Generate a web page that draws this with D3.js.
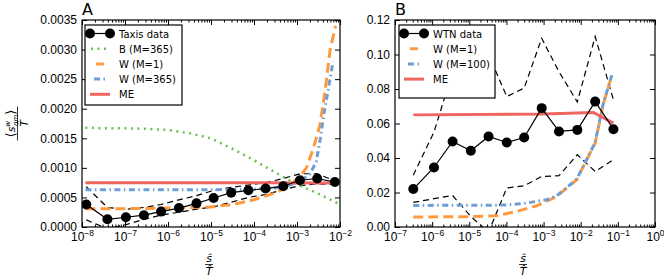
<!DOCTYPE html>
<html>
<head>
<meta charset="utf-8">
<script src="https://cdn.jsdelivr.net/npm/d3@7"></script>
<style>
  body { margin: 0; background: #fff; }
  svg { font-family: "DejaVu Sans", sans-serif; }
</style>
</head>
<body>
<svg id="chart" width="664" height="277"></svg>
<script>
// ---- panel A: taxis data ----
var taxisX     = [1.26e-8, 3.9e-8, 1.05e-7, 2.75e-7, 6.9e-7, 1.8e-6, 4.6e-6, 1.15e-5, 2.95e-5, 7.4e-5, 1.86e-4, 4.8e-4, 1.17e-3, 2.95e-3, 7.6e-3];
var taxisMean  = [0.00038, 0.00013, 0.000165, 0.0002, 0.00026, 0.00032, 0.0004, 0.00049, 0.00058, 0.00062, 0.00065, 0.00069, 0.00079, 0.00082, 0.00076];
var taxisUpper = [0.00068, 0.00033, 0.0003, 0.00033, 0.00038, 0.00046, 0.00053, 0.00062, 0.00067, 0.00071, 0.00075, 0.00082, 0.0009, 0.0009, 0.00078];
var taxisLower = [0.00012, -0.00003, 0.00004, 0.00013, 0.0002, 0.00025, 0.0003, 0.00034, 0.00042, 0.0005, 0.00055, 0.00063, 0.0007, 0.00073, 0.00072];

var bM365X = [1.2e-8, 3e-8, 1e-7, 3e-7, 1e-6, 3e-6, 1e-5, 3e-5, 1e-4, 3e-4, 1e-3, 3e-3, 8.9e-3];
var bM365Y = [0.00168, 0.00167, 0.00167, 0.00166, 0.00164, 0.00159, 0.0015, 0.00133, 0.00113, 0.00093, 0.00072, 0.00057, 0.0004];

var wM1X = [1.2e-8, 1e-7, 1e-6, 3.2e-6, 1e-5, 3.2e-5, 1e-4, 3.2e-4, 6e-4, 1.17e-3, 1.66e-3, 2.4e-3, 3.4e-3, 4.5e-3, 5.9e-3, 7.9e-3];
var wM1Y = [0.00031, 0.00031, 0.00032, 0.00033, 0.00034, 0.00038, 0.00046, 0.00058, 0.00068, 0.00085, 0.001, 0.00133, 0.00172, 0.0023, 0.003, 0.0034];

var wM365X = [1.2e-8, 1e-5, 1e-4, 3.2e-4, 6.3e-4, 1.17e-3, 2e-3, 2.8e-3, 3.5e-3, 4.2e-3, 5.4e-3, 6.9e-3];
var wM365Y = [0.00063, 0.00063, 0.00064, 0.00066, 0.0007, 0.00077, 0.0009, 0.0011, 0.0015, 0.0019, 0.00235, 0.0028];

var meAX = [1.2e-8, 1e-6, 1e-4, 8.9e-3];
var meAY = [0.00075, 0.00075, 0.000748, 0.000745];

// ---- panel B: WTN data ----
var wtnX     = [3.1e-7, 1.12e-6, 3.55e-6, 1.1e-5, 3.3e-5, 1.02e-4, 3.0e-4, 8.9e-4, 2.6e-3, 8.1e-3, 2.45e-2, 7.6e-2];
var wtnMean  = [0.022, 0.0345, 0.0496, 0.0442, 0.0525, 0.049, 0.0519, 0.0689, 0.0554, 0.0563, 0.0727, 0.0567];
var wtnUpper = [0.030, 0.055, 0.09, 0.085, 0.1, 0.0756, 0.0805, 0.1094, 0.09, 0.0725, 0.1104, 0.0737];
var wtnLower = [0.0143, 0.0164, 0.0183, 0.0061, -0.003, 0.0226, 0.0239, 0.0293, 0.0297, 0.0419, 0.0322, 0.039];

var bWM1X = [3.1e-7, 1e-5, 5.4e-5, 1.86e-4, 6.5e-4, 1.48e-3, 2.24e-3, 7.8e-3, 1.45e-2, 2.45e-2, 3.3e-2, 4.1e-2, 5.6e-2, 6.9e-2];
var bWM1Y = [0.0058, 0.006, 0.0065, 0.009, 0.0123, 0.0158, 0.0177, 0.0274, 0.039, 0.0486, 0.062, 0.0718, 0.0814, 0.0882];

var bWM100X = [3.1e-7, 1e-4, 3.5e-4, 1.2e-3, 2.24e-3, 7.8e-3, 1.45e-2, 2.45e-2, 3.3e-2, 4.1e-2, 5.6e-2, 6.9e-2];
var bWM100Y = [0.0125, 0.0127, 0.0139, 0.0158, 0.018, 0.0277, 0.0393, 0.049, 0.0625, 0.072, 0.0815, 0.088];

var meBX = [3.1e-7, 1e-3, 2.2e-2, 7.6e-2];
var meBY = [0.065, 0.0655, 0.0664, 0.0602];

// ticks
var yTicksA = [0, 0.0005, 0.001, 0.0015, 0.002, 0.0025, 0.003, 0.0035];
var yTicksB = [0, 0.02, 0.04, 0.06, 0.08, 0.10, 0.12];
var xDecadesA = [-8, -7, -6, -5, -4, -3, -2];
var xDecadesB = [-7, -6, -5, -4, -3, -2, -1, 0];

var GREEN = "#66c24e", ORANGE = "#fd9a3f", BLUE = "#6d9ed9", RED = "#f06560";

var svg = d3.select("#chart");

function minorTicks(decades) {
  var out = [];
  for (var i = 0; i < decades.length - 1; i++) {
    for (var m = 2; m <= 9; m++) out.push(m * Math.pow(10, decades[i]));
  }
  return out;
}

function drawPanel(p) {
  var x = d3.scaleLog().domain(p.xDomain).range([p.left, p.right]);
  var y = d3.scaleLinear().domain(p.yDomain).range([p.bottom, p.top]);
  var g = svg.append("g");

  var clipId = "clip" + p.name;
  g.append("clipPath").attr("id", clipId)
    .append("rect")
      .attr("x", p.left).attr("y", p.top)
      .attr("width", p.right - p.left).attr("height", p.bottom - p.top);

  var majors = p.decades.map(function(d) { return Math.pow(10, d); });
  var minors = minorTicks(p.decades);

  // bottom axis: major with labels
  var bottom = g.append("g").attr("transform", "translate(0," + p.bottom + ")")
    .call(d3.axisBottom(x).tickValues(majors).tickSizeInner(-5).tickSizeOuter(0).tickPadding(5));
  bottom.selectAll(".tick text").each(function(d) {
    var t = d3.select(this).text(null).attr("font-size", 12).attr("fill", "#000");
    var e = Math.round(Math.log10(d));
    t.append("tspan").text("10");
    t.append("tspan").attr("font-size", 8.5).attr("dy", -5).text(e < 0 ? "\u2212" + (-e) : String(e));
  });
  g.append("g").attr("transform", "translate(0," + p.bottom + ")")
    .call(d3.axisBottom(x).tickValues(minors).tickSizeInner(-2.5).tickSizeOuter(0).tickFormat(""));
  g.append("g").attr("transform", "translate(0," + p.top + ")")
    .call(d3.axisTop(x).tickValues(majors).tickSizeInner(-5).tickSizeOuter(0).tickFormat(""));
  g.append("g").attr("transform", "translate(0," + p.top + ")")
    .call(d3.axisTop(x).tickValues(minors).tickSizeInner(-2.5).tickSizeOuter(0).tickFormat(""));

  g.append("g").attr("transform", "translate(" + p.left + ",0)")
    .call(d3.axisLeft(y).tickValues(p.yTicks).tickSizeInner(-5).tickSizeOuter(0).tickPadding(5)
      .tickFormat(d3.format(p.yFormat)))
    .selectAll(".tick text").attr("font-size", 12).attr("fill", "#000");
  g.append("g").attr("transform", "translate(" + p.right + ",0)")
    .call(d3.axisRight(y).tickValues(p.yTicks).tickSizeInner(-5).tickSizeOuter(0).tickFormat(""));

  g.selectAll(".domain").remove();
  g.selectAll(".tick line").attr("stroke", "#000");

  var line = d3.line()
    .x(function(d) { return x(d[0]); })
    .y(function(d) { return y(d[1]); });

  var plot = g.append("g").attr("clip-path", "url(#" + clipId + ")");

  p.series.forEach(function(s) {
    plot.append("path")
      .datum(d3.zip(s.x, s.y))
      .attr("fill", "none")
      .attr("stroke", s.color)
      .attr("stroke-width", s.width)
      .attr("stroke-dasharray", s.dash || null)
      .attr("d", line);
    if (s.markers) {
      plot.selectAll(null)
        .data(d3.zip(s.x, s.y))
        .enter()
        .append("circle")
          .attr("cx", function(d) { return x(d[0]); })
          .attr("cy", function(d) { return y(d[1]); })
          .attr("r", 5)
          .attr("fill", "#000");
    }
  });

  // frame
  g.append("rect")
    .attr("x", p.left).attr("y", p.top)
    .attr("width", p.right - p.left).attr("height", p.bottom - p.top)
    .attr("fill", "none").attr("stroke", "#000").attr("stroke-width", 1.2);

  // panel letter
  g.append("text").attr("x", p.left).attr("y", 15)
    .attr("font-size", 16).text(p.name);

  // legend
  var lg = g.append("g");
  lg.append("rect")
    .attr("x", p.legend.x).attr("y", p.legend.y)
    .attr("width", p.legend.w).attr("height", p.legend.h)
    .attr("fill", "#fff").attr("stroke", "#000").attr("stroke-width", 1.2);
  p.legend.items.forEach(function(s, i) {
    var cy = p.legend.y + 8.5 + i * 15.2;
    var x0 = p.legend.x + 5, x1 = p.legend.x + 25;
    lg.append("line")
      .attr("x1", x0).attr("x2", x1).attr("y1", cy).attr("y2", cy)
      .attr("stroke", s.color).attr("stroke-width", s.width)
      .attr("stroke-dasharray", s.legendDash || s.dash || null)
      .attr("stroke-dashoffset", s.legendOffset || 0);
    if (s.markers) {
      [x0, x1].forEach(function(cx) {
        lg.append("circle").attr("cx", cx).attr("cy", cy).attr("r", 5).attr("fill", "#000");
      });
    }
    lg.append("text")
      .attr("x", p.legend.x + 34).attr("y", cy + 4)
      .attr("font-size", 10).text(s.label);
  });

  // x label: s-hat over T-hat
  var cx = (p.left + p.right) / 2 - 2;
  var xl = g.append("g").attr("font-style", "italic").attr("font-size", 11).attr("text-anchor", "middle");
  xl.append("text").attr("x", cx).attr("y", 262).text("s\u0302");
  xl.append("line").attr("x1", cx - 4).attr("x2", cx + 4).attr("y1", 264.5).attr("y2", 264.5)
    .attr("stroke", "#000").attr("stroke-width", 0.8);
  xl.append("text").attr("x", cx).attr("y", 275).text("T\u0302");
}

var dashed = "6,4";

drawPanel({
  name: "A",
  left: 82, right: 340, top: 20, bottom: 227,
  xDomain: [1e-8, 1e-2], yDomain: [0, 0.0035],
  decades: xDecadesA, yTicks: yTicksA, yFormat: ".4f",
  series: [
    { x: taxisX, y: taxisUpper, color: "#000", width: 1.2, dash: dashed },
    { x: taxisX, y: taxisLower, color: "#000", width: 1.2, dash: dashed },
    { x: bM365X, y: bM365Y, color: GREEN, width: 2.5, dash: "2,4.5" },
    { x: wM1X, y: wM1Y, color: ORANGE, width: 3, dash: "10,5" },
    { x: wM365X, y: wM365Y, color: BLUE, width: 3, dash: "6,3.5,1.5,3.5" },
    { x: meAX, y: meAY, color: RED, width: 3 },
    { x: taxisX, y: taxisMean, color: "#000", width: 1.2, markers: true }
  ],
  legend: {
    x: 85, y: 25, w: 97, h: 80,
    items: [
      { label: "Taxis data", color: "#000", width: 1.2, markers: true },
      { label: "B (M=365)", color: GREEN, width: 2.5, dash: "2,4.5", legendOffset: -1 },
      { label: "W (M=1)", color: ORANGE, width: 3, legendDash: "0,6,8,20" },
      { label: "W (M=365)", color: BLUE, width: 3, legendDash: "0,4,6,3.5,1.5,20" },
      { label: "ME", color: RED, width: 3 }
    ]
  }
});

drawPanel({
  name: "B",
  left: 395, right: 655, top: 20, bottom: 227,
  xDomain: [1e-7, 1], yDomain: [0, 0.12],
  decades: xDecadesB, yTicks: yTicksB, yFormat: ".2f",
  series: [
    { x: wtnX, y: wtnUpper, color: "#000", width: 1.2, dash: dashed },
    { x: wtnX, y: wtnLower, color: "#000", width: 1.2, dash: dashed },
    { x: bWM1X, y: bWM1Y, color: ORANGE, width: 3, dash: "10,5" },
    { x: bWM100X, y: bWM100Y, color: BLUE, width: 3, dash: "6,3.5,1.5,3.5" },
    { x: meBX, y: meBY, color: RED, width: 3 },
    { x: wtnX, y: wtnMean, color: "#000", width: 1.2, markers: true }
  ],
  legend: {
    x: 399, y: 25, w: 96, h: 73,
    items: [
      { label: "WTN data", color: "#000", width: 1.2, markers: true },
      { label: "W (M=1)", color: ORANGE, width: 3, legendDash: "0,6,8,20" },
      { label: "W (M=100)", color: BLUE, width: 3, legendDash: "0,4,6,3.5,1.5,20" },
      { label: "ME", color: RED, width: 3 }
    ]
  }
});

// y label of panel A: <s^w_nm> over T-hat, rotated
var yl = svg.append("g").attr("transform", "translate(17.5,123.5) rotate(-90)")
  .attr("font-style", "italic").attr("text-anchor", "middle");
var num = yl.append("text").attr("x", 0).attr("y", -3).attr("font-size", 11);
num.append("tspan").attr("font-style", "normal").attr("font-size", 13).text("\u27E8");
num.append("tspan").text("s");
num.append("tspan").attr("font-size", 7).attr("dy", -5).text("w");
num.append("tspan").attr("font-size", 7).attr("dx", -5).attr("dy", 8).text("nm");
num.append("tspan").attr("font-style", "normal").attr("font-size", 13).attr("dy", -3).text("\u27E9");
yl.append("line").attr("x1", -17).attr("x2", 17).attr("y1", 0).attr("y2", 0)
  .attr("stroke", "#000").attr("stroke-width", 0.8);
yl.append("text").attr("x", 0).attr("y", 10).attr("font-size", 11).text("T\u0302");
</script>
</body>
</html>
